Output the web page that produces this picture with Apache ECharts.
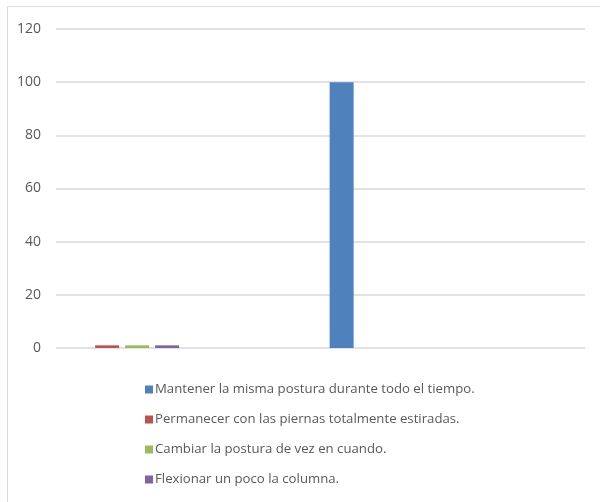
<!DOCTYPE html>
<html><head><meta charset="utf-8">
<script src="https://cdn.jsdelivr.net/npm/echarts@6/dist/echarts.min.js"></script>
<style>html,body{margin:0;padding:0;background:#fff;overflow:hidden}#c{width:600px;height:502px}</style>
</head><body><div id="c"></div>
<script>
// Category slots (labels not shown in the reference)
const categories = ['A', 'B', 'C', 'D'];
const seriesNames = [
  'Mantener la misma postura durante todo el tiempo.',
  'Permanecer con las piernas totalmente estiradas.',
  'Cambiar la postura de vez en cuando.',
  'Flexionar un poco la columna.'
];
const mantener = [0, null, 100, null];
const permanecer = [1, null, 0, null];
const cambiar = [1, null, 0, null];
const flexionar = [1, null, 0, null];
const yTicks = [0, 20, 40, 60, 80, 100, 120];
const colors = ['#4f81bd', '#c0504d', '#9bbb59', '#8064a2'];

const values = [mantener, permanecer, cambiar, flexionar];
const chart = echarts.init(document.getElementById('c'));
chart.setOption({
  animation: false,
  textStyle: { fontFamily: 'Open Sans' },
  graphic: [{ type: 'rect', shape: { x: 7.5, y: 6.5, width: 700, height: 700 },
    style: { fill: 'none', stroke: '#d9d9d9', lineWidth: 1 }, silent: true }],
  grid: { left: 56, right: 15, top: 29, bottom: 154 },
  xAxis: { type: 'category', data: categories, axisLine: { show: false }, axisTick: { show: false }, axisLabel: { show: false } },
  yAxis: { type: 'value', min: yTicks[0], max: yTicks[yTicks.length - 1], interval: 20,
    axisLabel: { color: '#595959', fontSize: 14, margin: 15 },
    splitLine: { lineStyle: { color: '#d9d9d9', width: 1.5 } } },
  legend: { orient: 'vertical', left: 140, top: 378, itemWidth: 8, itemHeight: 8, itemGap: 17, icon: 'rect',
    textStyle: { color: '#595959', fontSize: 13.2, fontFamily: 'Open Sans', padding: [0, 0, 0, -3] }, data: seriesNames },
  series: seriesNames.map((n, i) => ({ type: 'bar', name: n, data: values[i], barWidth: 24, barGap: '25%',
    itemStyle: { color: colors[i] } }))
});
</script></body></html>
